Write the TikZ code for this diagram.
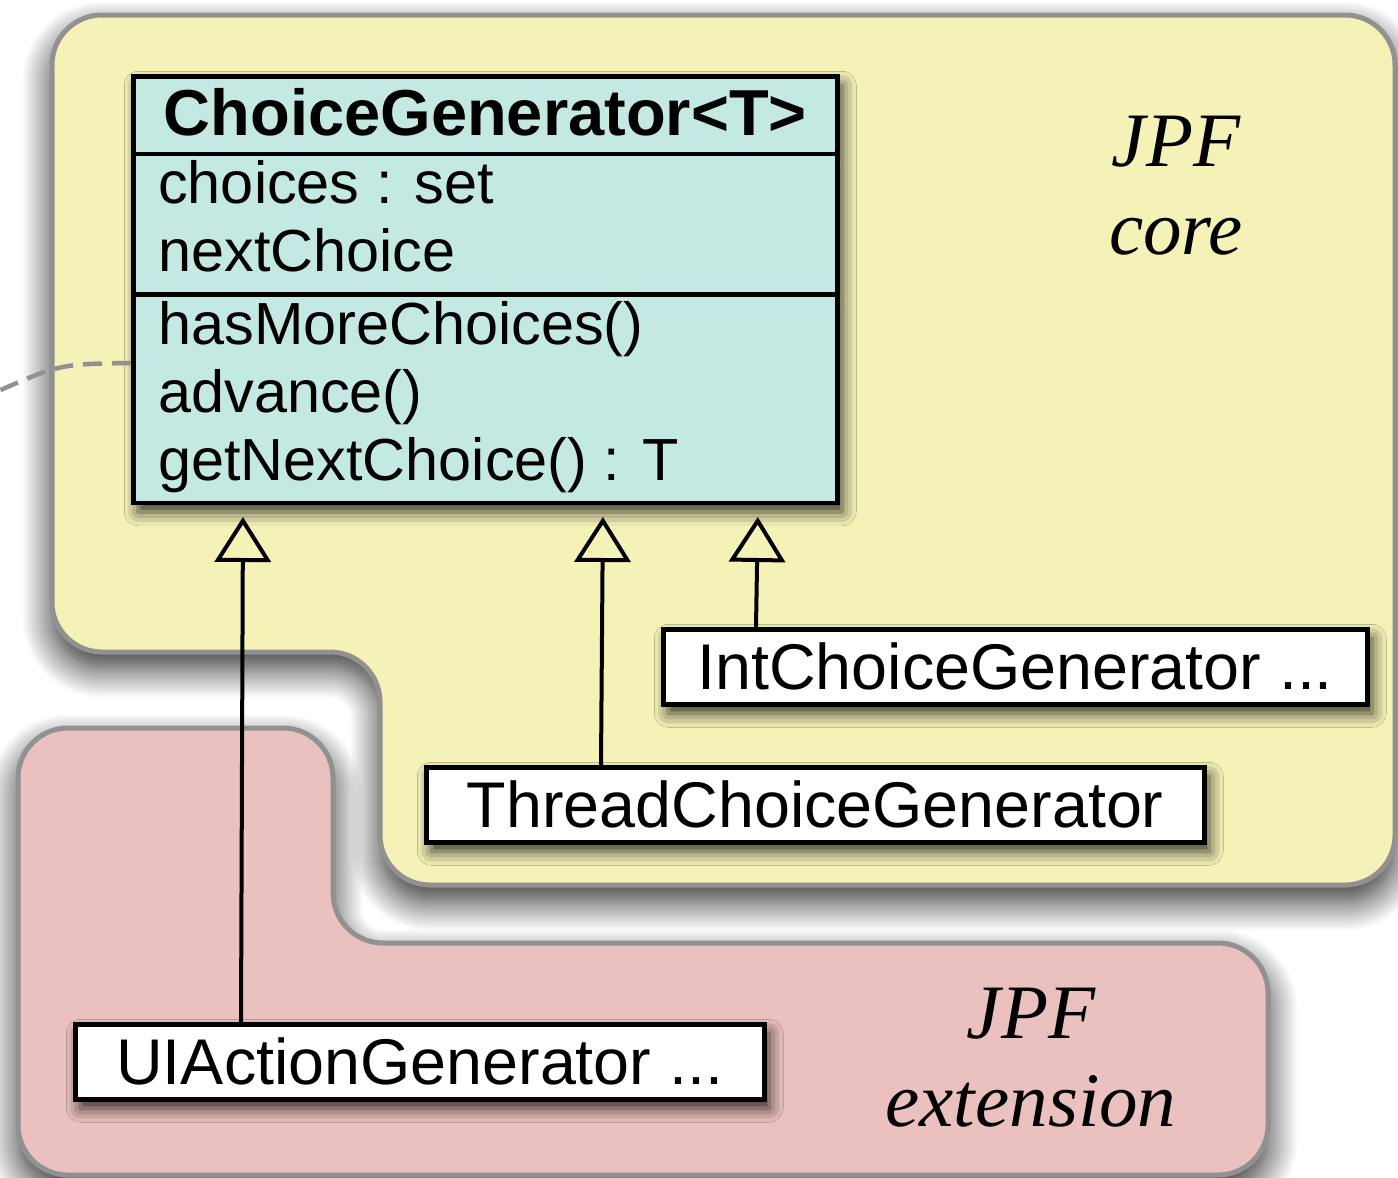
\documentclass[tikz,border=0pt]{standalone}
\usepackage{fontspec}
\setmainfont{Liberation Serif}
\setsansfont{Liberation Sans}
\usetikzlibrary{arrows.meta, positioning, shapes.multipart, shadows.blur}
\definecolor{coreyellow}{RGB}{245,242,184}
\definecolor{extpink}{RGB}{234,193,191}
\definecolor{classteal}{RGB}{196,232,226}
\definecolor{edgegray}{RGB}{145,145,145}

\begin{document}
\begin{tikzpicture}[x=1pt, y=-1pt,
  region/.style={draw=edgegray, line width=5pt, rounded corners=50pt,
    blur shadow={shadow xshift=0pt, shadow yshift=-16pt, shadow blur radius=30pt, shadow blur steps=20, shadow opacity=85}},
  umlclass/.style={draw, line width=4.5pt, fill=classteal, rectangle split, rectangle split parts=3,
    rectangle split part align={center, left, left}, inner xsep=25pt, inner ysep=0pt,
    font=\sffamily\fontsize{59.4}{68}\selectfont,
    blur shadow={shadow xshift=5pt, shadow yshift=-9pt, shadow blur radius=14pt, shadow opacity=80}},
  subbox/.style={draw, line width=4.5pt, fill=white, minimum height=75pt, inner sep=0pt,
    font=\sffamily\fontsize{64.6}{78}\selectfont,
    blur shadow={shadow xshift=5pt, shadow yshift=-9pt, shadow blur radius=14pt, shadow opacity=80}},
  zonelabel/.style={align=center, inner sep=0pt, font=\itshape\fontsize{77}{88}\selectfont},
  inherit/.style={-{Triangle[open, length=45pt, width=56pt, line width=4pt]}, line width=4pt, shorten >=12pt},
  dashline/.style={draw=edgegray, line width=4.5pt, dash pattern=on 19pt off 10pt}
]
  \useasboundingbox (0,0) rectangle (1398,1178);

  % the two zones
  \draw[region, fill=extpink] (18,728) -- (333,728) -- (333,943) -- (1268,943)
    -- (1268,1175) -- (18,1175) -- cycle;
  \draw[region, fill=coreyellow] (52,15) -- (1395,15) -- (1395,885) -- (380,885)
    -- (380,652) -- (52,652) -- cycle;

  \node[zonelabel] (corelbl) at (1176,186) {JPF\\core};
  \node[zonelabel] (extlbl) at (1031,1058) {JPF\\extension};

  % classes
  \node[umlclass, anchor=north west] (cg) at (131,74)
    {\fontsize{65}{78}\selectfont\rule[-16pt]{0pt}{73pt}\makebox[654pt]{\bfseries ChoiceGenerator<T>}
     \nodepart{second}\begin{tabular}{@{}l@{}}choices : set\\ nextChoice\end{tabular}
     \nodepart{third}\begin{tabular}{@{}l@{}}hasMoreChoices()\\ advance()\\ getNextChoice() : T\end{tabular}};
  \node[subbox, minimum width=704pt, anchor=north west] (intcg) at (661,627) {IntChoiceGenerator ...};
  \node[subbox, minimum width=778pt, anchor=north west] (threadcg) at (424,765) {ThreadChoiceGenerator};
  \node[subbox, minimum width=689pt, anchor=north west] (uiag) at (73,1022) {UIActionGenerator ...};

  \coordinate (outside) at (-4,392);

  % generalisations
  \draw[inherit] ([xshift=168pt]uiag.north west) -- ([xshift=112pt]cg.south west);
  \draw[inherit] ([xshift=177pt]threadcg.north west) -- ([xshift=472pt]cg.south west);
  \draw[inherit] ([xshift=95pt]intcg.north west) -- ([xshift=627pt]cg.south west);

  \draw[dashline] ([yshift=-289pt]cg.north west) .. controls (60,364) .. (outside);
\end{tikzpicture}
\end{document}
